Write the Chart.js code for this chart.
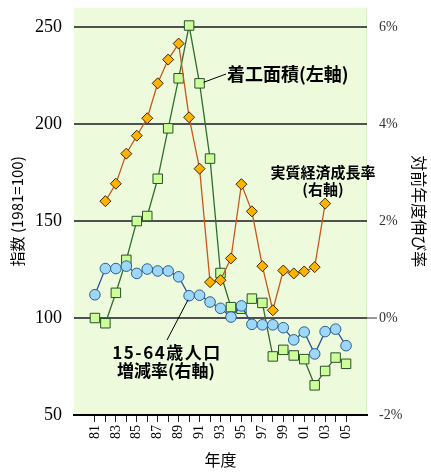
<!DOCTYPE html>
<html>
<head>
<meta charset="utf-8">
<script src="https://cdn.jsdelivr.net/npm/chart.js@4.4.0/dist/chart.umd.min.js"></script>
<style>
  html, body { margin: 0; padding: 0; background: #fff; }
  #wrap { width: 431px; height: 472px; }
</style>
</head>
<body>
<div id="wrap"><canvas id="chart" width="431" height="472"></canvas></div>
<script>
// Fiscal years on the x axis
const years = [1981, 1982, 1983, 1984, 1985, 1986, 1987, 1988, 1989, 1990, 1991, 1992, 1993,
               1994, 1995, 1996, 1997, 1998, 1999, 2000, 2001, 2002, 2003, 2004, 2005];
const yearLabels = ['81', '', '83', '', '85', '', '87', '', '89', '', '91', '', '93',
                    '', '95', '', '97', '', '99', '', '01', '', '03', '', '05'];

// 着工面積 index (1981=100), left axis
const floorArea = [100, 97.3, 113, 130, 150, 152.6, 171.8, 197.8, 223.6, 250.8, 221, 182.2, 123.2,
                   105.6, 104.8, 110, 107.8, 80.2, 83.6, 80.7, 78.8, 65.3, 72.7, 79.6, 76.4];

// 実質経済成長率 (%), right axis, 1982-2003
const gdpYears = [1982, 1983, 1984, 1985, 1986, 1987, 1988, 1989, 1990, 1991, 1992,
                  1993, 1994, 1995, 1996, 1997, 1998, 1999, 2000, 2001, 2002, 2003];
const gdpGrowth = [2.41, 2.77, 3.39, 3.76, 4.12, 4.84, 5.33, 5.66, 4.14, 3.08, 0.74,
                   0.78, 1.23, 2.76, 2.20, 1.07, 0.16, 0.98, 0.92, 0.96, 1.05, 2.36];

// 15-64歳人口増減率 (%), right axis
const popGrowth = [0.48, 1.02, 1.02, 1.07, 0.92, 1.01, 0.97, 0.97, 0.85, 0.46, 0.47, 0.33, 0.20,
                   0.02, 0.25, -0.13, -0.14, -0.14, -0.20, -0.45, -0.29, -0.74, -0.28, -0.23, -0.57];

const leftTicks = [50, 100, 150, 200, 250];
const rightTicks = [-2, 0, 2, 4, 6];

const JP = '"Noto Sans CJK JP", "Noto Sans", sans-serif';
const SERIF = '"Liberation Serif", "DejaVu Serif", serif';

// Light green plot background
const plotBackground = {
    id: 'plotBackground',
    beforeDraw(chart) {
        const { ctx, chartArea: a } = chart;
        ctx.save();
        ctx.fillStyle = '#eefadc';
        ctx.fillRect(a.left, a.top, a.right - a.left, a.bottom - a.top);
        ctx.strokeStyle = '#d9efc4';
        ctx.lineWidth = 1;
        ctx.beginPath();
        ctx.moveTo(a.right - 0.5, a.top);
        ctx.lineTo(a.right - 0.5, a.bottom);
        ctx.stroke();
        // short mark joining the 0% line to its label
        const y0 = chart.scales.y2.getPixelForValue(0);
        ctx.strokeStyle = '#777';
        ctx.lineWidth = 1.5;
        ctx.beginPath();
        ctx.moveTo(a.right, y0);
        ctx.lineTo(a.right + 10, y0);
        ctx.stroke();
        ctx.restore();
    }
};

// Series labels with leader lines
const seriesLabels = {
    id: 'seriesLabels',
    afterDatasetsDraw(chart) {
        const { ctx, scales } = chart;
        const x = scales.x, y = scales.y, y2 = scales.y2;
        ctx.save();
        ctx.fillStyle = '#000';
        ctx.strokeStyle = '#000';
        ctx.lineWidth = 1;
        ctx.textBaseline = 'middle';

        // 着工面積(左軸)
        const px = x.getPixelForValue(1991), py = y.getPixelForValue(floorArea[10]);
        ctx.beginPath();
        ctx.moveTo(px + 4, py - 1);
        ctx.lineTo(226, 74);
        ctx.stroke();
        ctx.font = 'bold 18px ' + JP;
        ctx.textAlign = 'left';
        ctx.fillText('着工面積(左軸)', 227, 74);

        // 実質経済成長率(右軸)
        ctx.font = 'bold 15px ' + JP;
        ctx.textAlign = 'center';
        ctx.fillText('実質経済成長率', 323, 172);
        ctx.fillText('(右軸)', 323, 189);

        // 15-64歳人口増減率(右軸)
        const qx = x.getPixelForValue(1990), qy = y2.getPixelForValue(popGrowth[9]);
        ctx.beginPath();
        ctx.moveTo(qx - 1, qy + 4);
        ctx.lineTo(167, 340);
        ctx.stroke();
        ctx.font = 'bold 17px ' + JP;
        if ('letterSpacing' in ctx) ctx.letterSpacing = '1.5px';
        ctx.fillText('15-64歳人口', 167, 353);
        if ('letterSpacing' in ctx) ctx.letterSpacing = '0px';
        ctx.fillText('増減率(右軸)', 166, 371);
        ctx.restore();
    }
};

// Drop the label overflow padding so the plot area sits where the reference has it
function noPad(s) {
    s.paddingTop = 0;
    s.paddingBottom = 0;
    s.paddingLeft = 0;
    s.paddingRight = 0;
}

const ctx = document.getElementById('chart').getContext('2d');
new Chart(ctx, {
    type: 'line',
    data: {
        datasets: [{
            label: '15-64歳人口増減率(右軸)',
            data: popGrowth.map((v, i) => ({ x: years[i], y: v })),
            yAxisID: 'y2',
            borderColor: '#2b5597',
            borderWidth: 1.3,
            pointStyle: 'circle',
            pointRadius: 5.3,
            pointBackgroundColor: '#9dd8fb',
            pointBorderColor: '#2b5f8f',
            pointBorderWidth: 1,
            order: 1
        }, {
            label: '実質経済成長率(右軸)',
            data: gdpGrowth.map((v, i) => ({ x: gdpYears[i], y: v })),
            yAxisID: 'y2',
            borderColor: '#c8581a',
            borderWidth: 1.3,
            pointStyle: 'rectRot',
            pointRadius: 5.5,
            pointBackgroundColor: '#ffb300',
            pointBorderColor: '#3a2a00',
            pointBorderWidth: 1,
            order: 2
        }, {
            label: '着工面積(左軸)',
            data: floorArea.map((v, i) => ({ x: years[i], y: v })),
            yAxisID: 'y',
            borderColor: '#2f6e2f',
            borderWidth: 1.3,
            pointStyle: 'rect',
            pointRadius: 6.7,
            pointBackgroundColor: '#ccff99',
            pointBorderColor: '#2c4f2c',
            pointBorderWidth: 1,
            order: 3
        }]
    },
    options: {
        responsive: false,
        animation: false,
        layout: { padding: { top: 4, left: 0, right: 0, bottom: 0 } },
        plugins: {
            legend: { display: false },
            tooltip: { enabled: false }
        },
        scales: {
            x: {
                type: 'linear',
                min: 1979,
                max: 2007,
                afterBuildTicks: s => { s.ticks = years.map(v => ({ value: v })); },
                afterFit: s => { s.height = 57; noPad(s); },
                ticks: {
                    autoSkip: false,
                    minRotation: 90,
                    maxRotation: 90,
                    padding: 3,
                    color: '#000',
                    font: { family: SERIF, size: 14 },
                    callback: (v, i) => yearLabels[i]
                },
                grid: { drawOnChartArea: false, drawTicks: true, tickLength: 7, color: '#222' },
                border: { color: '#000', width: 2 },
                title: {
                    display: true,
                    text: '年度',
                    color: '#000',
                    font: { family: JP, size: 16 },
                    padding: { top: 0, bottom: 2 }
                }
            },
            y: {
                position: 'left',
                min: 50,
                max: 260,
                afterBuildTicks: s => { s.ticks = leftTicks.map(v => ({ value: v })); },
                afterFit: s => { s.width = 74; noPad(s); },
                ticks: {
                    padding: 12,
                    color: '#000',
                    font: { family: SERIF, size: 18 }
                },
                grid: { color: '#505050', lineWidth: 2, drawTicks: false },
                border: { display: false },
                title: {
                    display: true,
                    text: '指数 (1981=100)',
                    color: '#000',
                    font: { family: JP, size: 15 },
                    padding: { top: 8, bottom: 0 }
                }
            },
            y2: {
                position: 'right',
                min: -2,
                max: 6.4,
                afterBuildTicks: s => { s.ticks = rightTicks.map(v => ({ value: v })); },
                afterFit: s => { s.width = 64; noPad(s); },
                ticks: {
                    padding: 12,
                    color: '#333',
                    font: { family: SERIF, size: 14 },
                    callback: v => v + '%'
                },
                grid: { display: false, drawTicks: false },
                border: { display: false },
                title: {
                    display: true,
                    text: '対前年度伸び率',
                    color: '#000',
                    font: { family: JP, size: 16 },
                    padding: { top: 2, bottom: 0 }
                }
            }
        }
    },
    plugins: [plotBackground, seriesLabels]
});
</script>
</body>
</html>
